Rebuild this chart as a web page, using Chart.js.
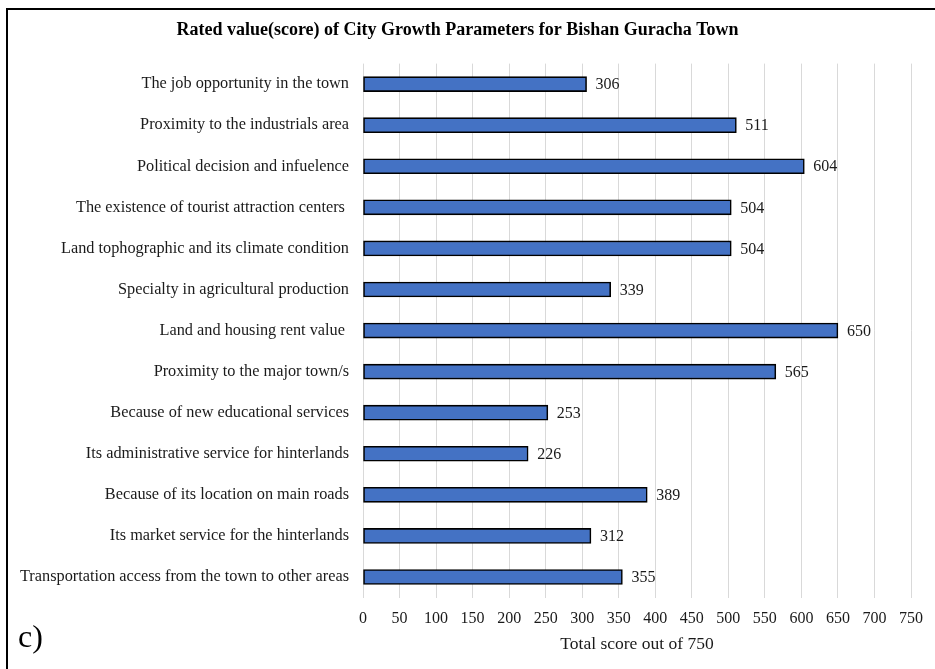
<!DOCTYPE html>
<html lang="en">
<head>
<meta charset="UTF-8">
<title>City Growth Parameters</title>
<script src="https://cdn.jsdelivr.net/npm/chart.js@4.4.0/dist/chart.umd.min.js"></script>
<style>
    body{ margin:0; background:#fff; }
    #chart_parent{ width:935px; height:669px; }
</style>
</head>
<body>
<div id="chart_parent">
    <canvas id="myChart" width="935" height="669"></canvas>
</div>
<script>
    // parameters, top to bottom
    var v_labels = [
        'The job opportunity in the town',
        'Proximity to the industrials area',
        'Political decision and infuelence',
        'The existence of tourist attraction centers ',
        'Land tophographic and its climate condition',
        'Specialty in agricultural production',
        'Land and housing rent value ',
        'Proximity to the major town/s',
        'Because of new educational services',
        'Its administrative service for hinterlands',
        'Because of its location on main roads',
        'Its market service for the hinterlands',
        'Transportation access from the town to other areas'
    ];
    var v_scores = [306, 511, 604, 504, 504, 339, 650, 565, 253, 226, 389, 312, 355];
    var v_xMax = 750;
    var v_xStep = 50;

    var v_font = "'Times New Roman', 'Liberation Serif', serif";

    // outer frame + the "c)" mark
    var framePlugin = {
        id: 'frame',
        beforeDraw: function(chart){
            var c = chart.ctx;
            c.save();
            c.fillStyle = '#fff';
            c.fillRect(0, 0, chart.width, chart.height);
            c.strokeStyle = '#000';
            c.lineWidth = 2;
            c.beginPath();
            c.moveTo(7, chart.height);
            c.lineTo(7, 9);
            c.lineTo(chart.width, 9);
            c.stroke();
            c.fillStyle = '#000';
            c.font = '32px ' + v_font;
            c.textBaseline = 'alphabetic';
            c.fillText('c)', 18, 647);
            c.restore();
        }
    };

    // value written after each bar
    var valuePlugin = {
        id: 'values',
        afterDatasetsDraw: function(chart){
            var c = chart.ctx;
            var meta = chart.getDatasetMeta(0);
            c.save();
            c.fillStyle = '#1a1a1a';
            c.font = '16px ' + v_font;
            c.textAlign = 'left';
            c.textBaseline = 'middle';
            meta.data.forEach(function(bar, i){
                c.fillText(String(v_scores[i]), bar.x + 9, bar.y + 1);
            });
            c.restore();
        }
    };

    const ctx = document.getElementById('myChart').getContext('2d');
    const myChart = new Chart(ctx, {
        type: 'bar',
        data: {
            labels: v_labels,
            datasets: [{
                data: v_scores,
                backgroundColor: '#4472C4',
                borderColor: '#000',
                borderWidth: 1.6,
                borderSkipped: false,
                barThickness: 15
            }]
        },
        options: {
            indexAxis: 'y',
            responsive: false,
            animation: false,
            layout: { padding: { left: 0, right: 20, top: 0, bottom: 0 } },
            plugins: {
                legend: { display: false },
                tooltip: { enabled: false },
                title: {
                    display: true,
                    text: 'Rated value(score) of City Growth Parameters for Bishan Guracha Town',
                    color: '#000',
                    font: { family: v_font, size: 18, weight: 'bold' },
                    padding: { top: 20, bottom: 22 }
                }
            },
            scales: {
                x: {
                    min: 0,
                    max: v_xMax,
                    ticks: {
                        stepSize: v_xStep,
                        color: '#1a1a1a',
                        font: { family: v_font, size: 16 },
                        padding: 12,
                        maxRotation: 0
                    },
                    grid: { color: '#d9d9d9', lineWidth: 1, drawTicks: false },
                    border: { display: false },
                    title: {
                        display: true,
                        text: 'Total score out of 750',
                        color: '#1a1a1a',
                        font: { family: v_font, size: 17.5 },
                        padding: { top: 0, bottom: 14 }
                    },
                    afterFit: function(scale){ scale.height = 71.5; }
                },
                y: {
                    ticks: {
                        color: '#1a1a1a',
                        font: { family: v_font, size: 16.3 },
                        padding: 14,
                        autoSkip: false
                    },
                    grid: { display: false, drawTicks: false },
                    border: { display: false },
                    afterFit: function(scale){ scale.width = 363; }
                }
            }
        },
        plugins: [framePlugin, valuePlugin]
    });
</script>
</body>
</html>
